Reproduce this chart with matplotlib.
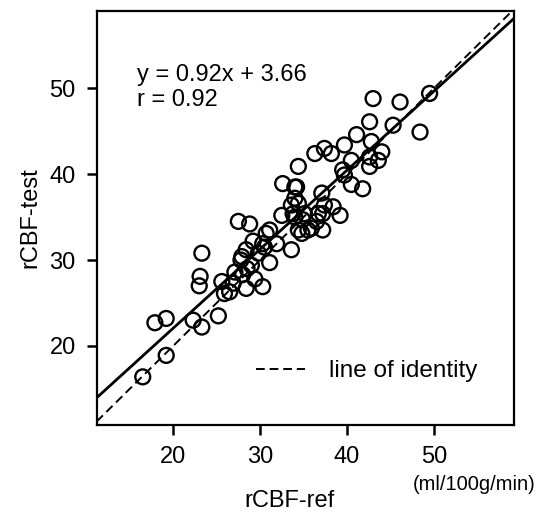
import numpy as np
import matplotlib
matplotlib.use('Agg')
import matplotlib.pyplot as plt

plt.rcParams['font.family'] = ['Liberation Sans', 'DejaVu Sans']

# rCBF values (ml/100g/min)
ref = [16.5, 19.2, 17.9, 19.2, 22.3, 23.3, 25.2, 23.3, 23.1, 23.0,
       25.6, 25.9, 26.5, 27.1, 28.4, 29.4, 30.3, 31.1, 27.5, 28.8,
       30.7, 29.2, 30.3, 31.9, 28.4, 33.6, 32.5, 33.6, 34.4, 34.9,
       34.2, 34.0, 33.8, 37.2, 39.2, 38.4, 37.1, 40.5, 41.8, 35.5,
       37.2, 36.5, 34.4, 42.6, 45.3, 41.1, 42.8, 39.7, 38.2, 37.4,
       44.0, 40.5, 43.6, 42.6, 39.5, 36.3, 34.4, 32.6, 46.1, 49.5,
       48.4, 43.0, 30.5, 31.1, 29.8, 27.9, 29.0, 27.8, 28.5, 28.0,
       26.9, 37.4, 35.9, 34.8, 35.1, 36.7, 34.0, 42.6, 39.7, 34.0]
test = [16.4, 18.9, 22.7, 23.2, 23.0, 22.2, 23.5, 30.8, 28.1, 27.0,
        27.5, 26.1, 26.3, 28.6, 26.7, 27.8, 26.9, 29.7, 34.5, 34.2,
        33.1, 32.2, 31.9, 31.9, 31.2, 31.2, 35.2, 36.4, 36.6, 34.7,
        38.5, 37.2, 35.4, 35.4, 35.2, 36.2, 37.8, 38.8, 38.3, 33.5,
        33.5, 34.5, 33.5, 46.1, 45.7, 44.6, 43.8, 43.4, 42.4, 43.0,
        42.6, 41.6, 41.6, 40.9, 40.5, 42.4, 40.9, 38.9, 48.4, 49.4,
        44.9, 48.8, 31.5, 33.5, 30.8, 30.4, 29.4, 30.0, 29.0, 28.3,
        27.3, 36.4, 33.7, 33.1, 35.4, 35.4, 35.0, 42.0, 39.9, 38.5]

slope = 0.92
intercept = 3.66
r_value = 0.92

xlim = (11.2, 59.2)
ylim = (10.8, 59.0)

fig = plt.figure(figsize=(5.37, 5.12), dpi=100)
ax = fig.add_axes([0.180, 0.170, 0.777, 0.8086])

ax.scatter(ref, test, s=115, facecolors='none', edgecolors='black', linewidths=1.7, zorder=3)

xx = np.array(xlim)
ax.plot(xx, slope * xx + intercept, color='black', lw=2.0, zorder=2)
ax.plot(xx, xx, color='black', lw=1.4, ls=(0, (4.5, 2.5)), zorder=2, label='line of identity')

ax.set_xlim(xlim)
ax.set_ylim(ylim)
ax.set_xticks([20, 30, 40, 50])
ax.set_yticks([20, 30, 40, 50])
ax.tick_params(direction='out', length=7, width=1.8, labelsize=17, pad=8)
for s in ax.spines.values():
    s.set_linewidth(1.6)

ax.text(15.8, 51.5, f'y = {slope}x + {intercept}', fontsize=17, va='center')
ax.text(15.8, 48.6, f'r = {r_value}', fontsize=17, va='center')

ax.legend(loc='center left', bbox_to_anchor=(0.33, 0.13), frameon=False,
          handlelength=2.0, handletextpad=1.0, fontsize=17.5)

fig.text(290 / 537, 1 - 501 / 512, 'rCBF-ref', fontsize=17, ha='center', va='center')
fig.text(474 / 537, 1 - 485 / 512, '(ml/100g/min)', fontsize=14.5, ha='center', va='center')
fig.text(30 / 537, 1 - 218 / 512, 'rCBF-test', fontsize=17, ha='center', va='center', rotation=90)

fig.savefig('out.png', dpi=100)
